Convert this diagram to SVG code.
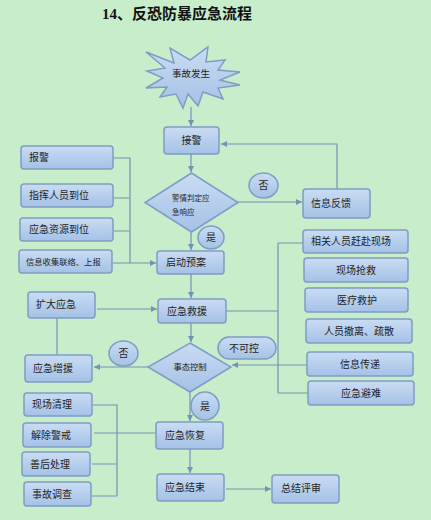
<svg xmlns="http://www.w3.org/2000/svg" width="431" height="520" viewBox="0 0 431 520">
<defs>
<linearGradient id="g" x1="0" y1="0" x2="0" y2="1">
<stop offset="0" stop-color="#cadcf3"/>
<stop offset="1" stop-color="#a4c1e6"/>
</linearGradient>
<marker id="a" viewBox="0 0 6 6" refX="6" refY="3" markerWidth="6" markerHeight="6" orient="auto" markerUnits="userSpaceOnUse">
<path d="M0,0 L6,3 L0,6 z" fill="#6f94b4"/>
</marker>
<style>
.b{fill:url(#g);stroke:#7d9dc4;stroke-width:1.5}
.t{font-family:"Liberation Sans","Noto Sans CJK SC",sans-serif;font-size:10px;fill:#1e1e1e}
.s{font-size:8.3px}
.d{font-size:7.5px}
.c{text-anchor:middle}
.l{fill:none;stroke:#6f94b4;stroke-width:1.2}
.ar{marker-end:url(#a)}
</style>
</defs>
<rect width="431" height="520" fill="#c8edcb"/>
<text x="102" y="19" style="font-family:'Liberation Serif','Noto Sans CJK SC',serif;font-size:15px;font-weight:bold;fill:#111">14、反恐防暴应急流程</text>

<g id="connectors">
<path class="l ar" d="M191,107 V126"/>
<path class="l ar" d="M191,154 V172"/>
<path class="l ar" d="M238,202 H302"/>
<path class="l ar" d="M337,189 V144 H221"/>
<path class="l ar" d="M191,232 V250"/>
<path class="l" d="M114,158 H130 V263 M114,198 H130 M114,231 H130"/>
<path class="l ar" d="M113,263 H156"/>
<path class="l ar" d="M191,274 V298"/>
<path class="l ar" d="M97,309 H157"/>
<path class="l" d="M57,318 V355"/>
<path class="l ar" d="M191,323 V342"/>
<path class="l ar" d="M148,367 H94"/>
<path class="l" d="M226,311 H278 M278,243 V393 M278,243 H303 M278,393 H308"/>
<path class="l ar" d="M307,365 H232"/>
<path class="l ar" d="M190,392 V421"/>
<path class="l" d="M93,405 H117 V496 M92,464 H117 M92,496 H117 M94,433 H156"/>
<path class="l ar" d="M190,449 V473"/>
<path class="l ar" d="M226,489 H271"/>
</g>

<g id="start">
<polygon class="b" points="146,52 174,63 170,48 190,60 208,47 206,62 225,60 218,70 240,72 220,80 240,85 218,88 223,99 203,92 198,106 188,94 183,108 176,94 160,97 167,87 146,88 163,78 147,71 165,68"/>
<text class="t c" style="font-size:9.5px" x="191" y="77">事故发生</text>
</g>

<g id="n_jiejing"><rect class="b" x="164" y="127" width="55" height="27" rx="3"/><text class="t c" x="191.5" y="144">接警</text></g>

<g id="n_panding"><polygon class="b" points="191.5,173 238,202.5 191.5,232 145,202.5"/>
<text class="t d" x="172" y="201">警情判定应</text><text class="t d" x="172" y="215">急响应</text></g>

<g id="n_fou1"><ellipse class="b" cx="263.5" cy="185.5" rx="14.5" ry="12.5"/><text class="t c" x="263.5" y="189">否</text></g>
<g id="n_fankui"><rect class="b" x="303" y="189" width="67" height="29" rx="3"/><text class="t" x="311" y="207">信息反馈</text></g>
<g id="n_shi1"><ellipse class="b" cx="211" cy="237.5" rx="13" ry="11.5"/><text class="t c" x="211" y="241">是</text></g>

<g id="n_baojing"><rect class="b" x="21" y="146" width="92" height="23" rx="3"/><text class="t" x="29" y="161">报警</text></g>
<g id="n_zhihui"><rect class="b" x="21" y="184" width="92" height="23" rx="3"/><text class="t" x="29" y="199">指挥人员到位</text></g>
<g id="n_ziyuan"><rect class="b" x="20" y="218" width="93" height="23" rx="3"/><text class="t" x="29" y="233">应急资源到位</text></g>
<g id="n_xinxi"><rect class="b" x="19" y="250" width="93" height="23" rx="3"/><text class="t s" x="26" y="265">信息收集联络、上报</text></g>

<g id="n_qidong"><rect class="b" x="157" y="251" width="67" height="23" rx="3"/><text class="t" x="166" y="266">启动预案</text></g>
<g id="n_kuoda"><rect class="b" x="28" y="292" width="67" height="26" rx="3"/><text class="t" x="36" y="308">扩大应急</text></g>
<g id="n_jiuyuan"><rect class="b" x="158" y="299" width="68" height="24" rx="3"/><text class="t" x="167" y="315">应急救援</text></g>
<g id="n_zengyuan"><rect class="b" x="25" y="355" width="67" height="27" rx="3"/><text class="t" x="33" y="372">应急增援</text></g>
<g id="n_fou2"><ellipse class="b" cx="123.5" cy="353.5" rx="14.5" ry="12.5"/><text class="t c" x="123.5" y="357">否</text></g>
<g id="n_kongzhi"><polygon class="b" points="190,343 231,367 190,392 148,367"/><text class="t s c" x="190" y="370">事态控制</text></g>
<g id="n_bukekong"><rect class="b" x="218" y="337" width="58" height="22" rx="11"/><text class="t" x="229" y="352">不可控</text></g>
<g id="n_shi2"><ellipse class="b" cx="205" cy="406" rx="14" ry="14"/><text class="t c" x="205" y="410">是</text></g>

<g id="n_ganfu"><rect class="b" x="303" y="230" width="105" height="23" rx="3"/><text class="t" x="311" y="245">相关人员赶赴现场</text></g>
<g id="n_qiangjiu"><rect class="b" x="304" y="258" width="104" height="24" rx="3"/><text class="t c" x="356" y="274">现场抢救</text></g>
<g id="n_yiliao"><rect class="b" x="305" y="288" width="103" height="24" rx="3"/><text class="t c" x="357" y="304">医疗救护</text></g>
<g id="n_chels"><rect class="b" x="306" y="319" width="106" height="24" rx="3"/><text class="t c" x="359" y="335">人员撤离、疏散</text></g>
<g id="n_chuandi"><rect class="b" x="307" y="352" width="106" height="24" rx="3"/><text class="t c" x="360" y="368">信息传递</text></g>
<g id="n_binan"><rect class="b" x="308" y="381" width="106" height="24" rx="3"/><text class="t c" x="361" y="397">应急避难</text></g>

<g id="n_qingli"><rect class="b" x="24" y="393" width="68" height="23" rx="3"/><text class="t" x="32" y="408">现场清理</text></g>
<g id="n_jiechu"><rect class="b" x="23" y="423" width="68" height="24" rx="3"/><text class="t" x="31" y="439">解除警戒</text></g>
<g id="n_shanhou"><rect class="b" x="22" y="452" width="68" height="24" rx="3"/><text class="t" x="30" y="468">善后处理</text></g>
<g id="n_diaocha"><rect class="b" x="24" y="482" width="67" height="24" rx="3"/><text class="t" x="32" y="498">事故调查</text></g>

<g id="n_huifu"><rect class="b" x="156" y="422" width="67" height="27" rx="3"/><text class="t" x="165" y="439">应急恢复</text></g>
<g id="n_jieshu"><rect class="b" x="157" y="474" width="67" height="27" rx="3"/><text class="t" x="165" y="491">应急结束</text></g>
<g id="n_pingshen"><rect class="b" x="272" y="475" width="67" height="28" rx="3"/><text class="t" x="281" y="492">总结评审</text></g>
</svg>
